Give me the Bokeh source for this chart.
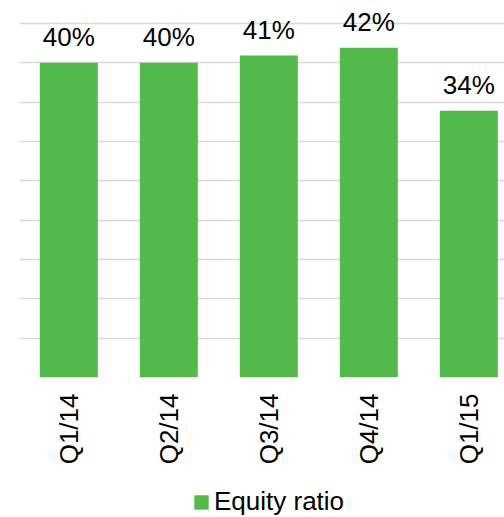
import math
from bokeh.plotting import figure
from bokeh.layouts import column
from bokeh.models import ColumnDataSource, Range1d, FixedTicker, Legend, LegendItem
from bokeh.core.properties import value
from bokeh.embed import file_html
from bokeh.resources import INLINE

quarters = ["Q1/14", "Q2/14", "Q3/14", "Q4/14", "Q1/15"]
equity_ratio = [40.0, 40.0, 40.9, 41.9, 33.9]
value_labels = ["40%", "40%", "41%", "42%", "34%"]
y_ticks = [0, 5, 10, 15, 20, 25, 30, 35, 40, 45]
series_name = "Equity ratio"

FONT = "Liberation Sans"
GREEN = "#53B94B"

xpos = list(range(len(quarters)))
src = ColumnDataSource(dict(x=xpos, y=equity_ratio, label=value_labels))

p = figure(width=504, height=480, output_backend="svg", toolbar_location=None,
           x_range=Range1d(-0.493, 4.357), y_range=Range1d(0, 47.9),
           min_border_left=19, min_border_right=0, min_border_top=0,
           min_border_bottom=103)
p.outline_line_color = None
p.background_fill_color = "white"

bars = p.vbar(x="x", top="y", width=0.58, source=src, fill_color=GREEN, line_color=None)
p.text(x="x", y="y", text="label", source=src, text_align="center",
       text_baseline="alphabetic", y_offset=-26, text_font=value(FONT),
       text_font_size="26px", text_color="#000000")

p.yaxis.visible = False
p.ygrid.ticker = FixedTicker(ticks=y_ticks)
p.ygrid.grid_line_color = "#D9D9D9"
p.ygrid.grid_line_width = 1.5
p.xgrid.visible = False

xa = p.xaxis[0]
xa.ticker = FixedTicker(ticks=xpos)
xa.major_label_overrides = {i: q for i, q in enumerate(quarters)}
xa.major_label_orientation = math.pi / 2
xa.major_tick_line_color = None
xa.minor_tick_line_color = None
xa.axis_line_color = None
xa.major_tick_out = 0
xa.major_tick_in = 0
xa.major_label_standoff = 16
xa.major_label_text_font = FONT
xa.major_label_text_font_size = "26px"
xa.major_label_text_color = "#000000"

# legend strip below the chart (dummy bar kept outside the visible range)
pl = figure(width=504, height=37, output_backend="svg", toolbar_location=None,
            x_range=Range1d(0, 1), y_range=Range1d(0, 1),
            min_border_left=0, min_border_right=0, min_border_top=0,
            min_border_bottom=0)
pl.outline_line_color = None
pl.axis.visible = False
pl.grid.visible = False
dummy = pl.vbar(x=[5], top=[1], width=0.5, fill_color=GREEN, line_color=None)
legend = Legend(items=[LegendItem(label=series_name, renderers=[dummy])],
                location=(173, 0), orientation="horizontal",
                border_line_color=None, background_fill_alpha=0,
                padding=0, margin=0, glyph_width=18, glyph_height=18,
                label_standoff=4, label_text_font=FONT,
                label_text_font_size="26px", label_text_color="#000000")
pl.add_layout(legend, "center")

open("out.html", "w").write(file_html(column(p, pl, spacing=0), INLINE))
